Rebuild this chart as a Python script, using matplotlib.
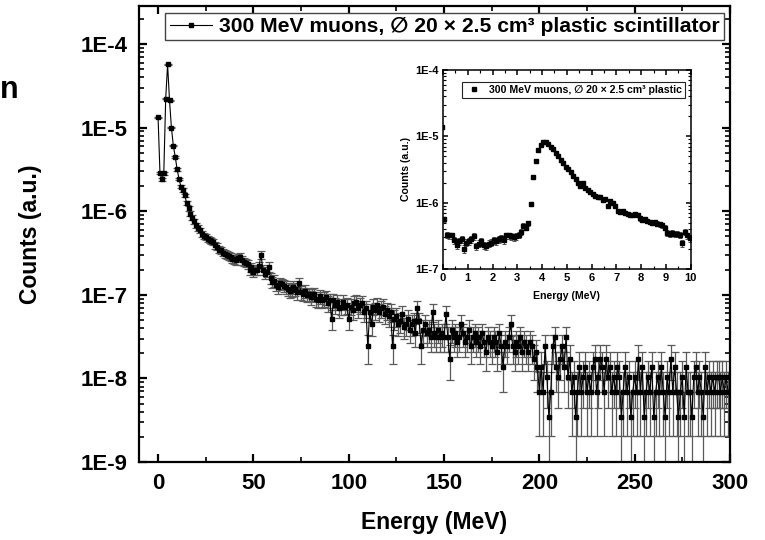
import matplotlib.pyplot as plt
import numpy as np
from matplotlib.lines import Line2D
from matplotlib.ticker import (LogLocator, FixedLocator, FuncFormatter,
                               MultipleLocator, NullFormatter)

plt.rcParams['font.family'] = ['Liberation Sans', 'DejaVu Sans']
plt.rcParams['font.weight'] = 'bold'

#%% data

# one count in the normalised units of the plot
count_unit = 3.45e-9

# main spectrum, 1 MeV bins, counts per bin (0 .. 300 MeV)
main_counts = [
    3855, 830, 700, 820, 6435, 16520, 6200, 2900, 1770, 1300,
    920, 705, 570, 520, 450, 362, 313, 272, 243, 220,
    197, 183, 171, 157, 148, 142, 136, 133, 128, 125,
    114, 109, 101, 99, 93, 90, 87, 84, 83, 78,
    77, 75, 81, 83, 75, 72, 70, 67, 58, 62,
    55, 58, 57, 64, 87, 58, 52, 55, 63, 46,
    41, 43, 38, 36, 40, 39, 37, 36, 34, 32,
    33, 36, 34, 31, 40, 31, 30, 32, 29, 30,
    27, 29, 30, 26, 25, 28, 25, 26, 27, 23,
    25, 15, 25, 22, 24, 20, 21, 24, 21, 22,
    15, 21, 19, 23, 24, 20, 22, 23, 18, 20,
    7, 18, 13, 21, 19, 22, 18, 20, 21, 17,
    19, 16, 18, 7, 15, 16, 13, 14, 17, 12,
    13, 15, 11, 13, 14, 10, 20, 14, 7, 11,
    13, 10, 11, 9, 18, 10, 9, 11, 9, 10,
    9, 17, 9, 5, 11, 9, 10, 8, 9, 13,
    10, 8, 9, 11, 7, 9, 10, 8, 9, 7,
    10, 8, 6, 9, 8, 7, 9, 8, 6, 10,
    7, 4, 8, 7, 9, 13, 7, 6, 8, 7,
    9, 6, 8, 7, 6, 8, 7, 5, 6, 4,
    2, 4, 2, 7, 3, 1, 2, 7, 9, 4,
    3, 5, 7, 4, 9, 3, 5, 2, 3, 1,
    2, 4, 2, 3, 4, 2, 3, 2, 4, 5,
    2, 3, 5, 4, 2, 5, 3, 4, 2, 3,
    2, 4, 3, 1, 2, 4, 2, 3, 1, 2,
    3, 2, 5, 2, 4, 1, 2, 3, 2, 4,
    1, 2, 3, 2, 4, 2, 1, 3, 2, 5,
    2, 4, 2, 1, 2, 3, 1, 4, 2, 2,
    1, 3, 4, 2, 3, 2, 1, 4, 2, 3,
    2, 3, 2, 3, 3, 2, 3, 2, 3, 2,
    2,
]
main_energy = np.arange(len(main_counts))

# inset: 0.1 MeV bins, values in units of 1E-7
inset_vals = [
    140,
    5.6, 3.3, 3.2, 3.2, 2.7, 2.3, 2.6, 2.8, 2.0, 2.5,
    2.6, 2.8, 3.1, 2.2, 2.4, 2.6, 2.3, 2.2, 2.4, 2.5,
    2.7, 2.6, 2.8, 2.9, 2.7, 3.2, 3.2, 3.1, 3.0, 3.1,
    3.3, 3.6, 4.5, 4.2, 4.9, 9.6, 24, 43, 62.5, 74,
    83, 82, 77, 70, 64, 56, 50, 44, 39.5, 35,
    32, 28.5, 25.5, 22.5, 20, 18, 19.5, 16.5, 15.5, 14.5,
    13.5, 12.5, 12, 12, 11, 11.2, 8.9, 10.4, 9.8, 9.0,
    7.4, 7.2, 7.4, 7.0, 6.8, 6.6, 6.5, 6.7, 6.5, 5.8,
    5.5, 5.7, 5.3, 5.1, 5.0, 5.1, 4.8, 4.7, 4.6, 4.2,
    3.5, 3.4, 3.5, 3.4, 3.4, 3.3, 2.45, 3.6, 3.2, 2.9,
]
inset_energy = np.arange(len(inset_vals)) * 0.1 - 0.05

main_decades = [1e-9, 1e-8, 1e-7, 1e-6, 1e-5, 1e-4]
inset_decades = [1e-7, 1e-6, 1e-5, 1e-4]

legend_text = '300 MeV muons, \u2205 20 \u00d7 2.5 cm\u00b3 plastic'


#%% helpers

def decade_label(v, pos):
    return '1E%d' % int(round(np.log10(v)))


def style_axis(ax, decades, size, major_len, minor_len, width):
    ax.tick_params(which='both', direction='in', top=True, right=True,
                   labelsize=size, pad=major_len + 2)
    ax.tick_params(which='major', length=major_len, width=width)
    ax.tick_params(which='minor', length=minor_len, width=width * 0.75)
    for s in ax.spines.values():
        s.set_linewidth(width)
    ax.yaxis.set_major_locator(FixedLocator(decades))
    ax.yaxis.set_minor_locator(LogLocator(base=10, subs=np.arange(2, 10), numticks=20))
    ax.yaxis.set_major_formatter(FuncFormatter(decade_label))
    ax.yaxis.set_minor_formatter(NullFormatter())


#%% figure

fig = plt.figure(figsize=(7.65, 5.4), dpi=100)
ax = fig.add_axes([0.1817, 0.1444, 0.7725, 0.8444])

counts = np.array(main_counts, dtype=float)
y = counts * count_unit
yerr = np.sqrt(counts) * count_unit

ax.errorbar(main_energy, y, yerr=yerr, fmt='none', ecolor='#5a5a5a',
            elinewidth=0.9, capsize=2.8, capthick=0.9, zorder=2)
ax.plot(main_energy, y, color='k', lw=0.8, marker='s', ms=3, zorder=3)

ax.set_yscale('log')
ax.set_xlim(-10, 300)
ax.set_ylim(1e-9, 2.85e-4)
ax.xaxis.set_major_locator(MultipleLocator(50))
ax.xaxis.set_minor_locator(MultipleLocator(25))
style_axis(ax, main_decades, 16, 6, 3.5, 1.6)
ax.set_xlabel('Energy (MeV)', fontsize=16.5, fontweight='bold', labelpad=12)
ax.set_ylabel('Counts (a.u.)', fontsize=16.5, fontweight='bold', labelpad=28)

handle = Line2D([], [], color='k', lw=0.8, marker='s', ms=3)
leg = ax.legend([handle], [legend_text + ' scintillator'], loc='upper right',
                bbox_to_anchor=(0.99, 0.985), fontsize=15.2, handlelength=2.0,
                borderpad=0.2, handletextpad=0.35, borderaxespad=0,
                fancybox=False, framealpha=1)
leg.get_frame().set_edgecolor('#444444')
leg.get_frame().set_linewidth(1.0)

# inset
axi = fig.add_axes([0.579, 0.502, 0.324, 0.3685])
iv = np.array(inset_vals) * 1e-7
ierr = np.sqrt(iv * count_unit)
axi.errorbar(inset_energy, iv, yerr=ierr, fmt='none', ecolor='#505050',
             elinewidth=0.7, capsize=1.6, capthick=0.7, zorder=2)
axi.plot(inset_energy, iv, ls='none', color='k', marker='s', ms=2.8, zorder=3)
axi.set_yscale('log')
axi.set_xlim(0, 10)
axi.set_ylim(1e-7, 1e-4)
axi.xaxis.set_major_locator(MultipleLocator(1))
axi.xaxis.set_minor_locator(MultipleLocator(0.5))
style_axis(axi, inset_decades, 8, 3.5, 2, 1.1)
axi.tick_params(pad=3)
axi.set_xlabel('Energy (MeV)', fontsize=7.6, fontweight='bold', labelpad=6)
axi.set_ylabel('Counts (a.u.)', fontsize=7.6, fontweight='bold', labelpad=3)

ihandle = Line2D([], [], ls='none', color='k', marker='s', ms=2.8)
ileg = axi.legend([ihandle], [legend_text], loc='upper right',
                  bbox_to_anchor=(0.976, 0.94), fontsize=7.6, handlelength=1.6,
                  borderpad=0.3, handletextpad=0.6, borderaxespad=0,
                  fancybox=False, framealpha=1)
ileg.get_frame().set_edgecolor('#222222')
ileg.get_frame().set_linewidth(0.8)

# cut-off letter at the left edge of the source picture
fig.text(0.0, 0.833, 'n', fontsize=22, fontweight='bold', ha='left', va='center')

fig.savefig('out.png', dpi=100)
